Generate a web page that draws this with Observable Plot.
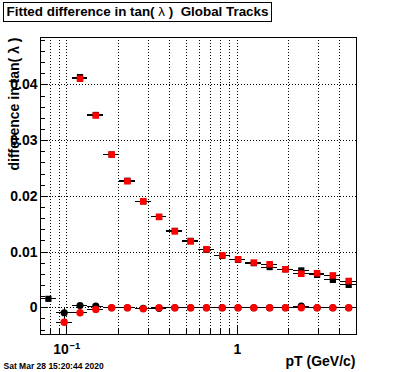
<!DOCTYPE html>
<html><head><meta charset="utf-8">
<script src="https://cdn.jsdelivr.net/npm/d3@7"></script>
<script src="https://cdn.jsdelivr.net/npm/@observablehq/plot@0.6"></script>
<style>
body{margin:0;background:#fff;}
#wrap{position:relative;width:396px;height:372px;font-family:"Liberation Sans",Arial,Helvetica,sans-serif;}
#title{position:absolute;left:3px;top:2px;width:269px;height:20px;box-sizing:border-box;border:1px solid #000;font-weight:bold;font-size:13.4px;line-height:18px;text-align:center;white-space:pre;background:#fff;z-index:2}
#title .l{font-weight:normal}
</style></head>
<body><div id="wrap"><div id="title">Fitted difference in tan( <span class="l">λ</span> )  Global Tracks</div></div>
<script>
// ---- data ----
const binCenters = [0.0779, 0.0964, 0.1194, 0.1478, 0.1830, 0.2265, 0.2804, 0.3472, 0.4298, 0.5321, 0.6587, 0.8155, 1.0095, 1.2498, 1.5472, 1.9154, 2.3713, 2.9355, 3.6341, 4.4988];
const binLow     = [0.0700, 0.0867, 0.1073, 0.1328, 0.1644, 0.2036, 0.2520, 0.3120, 0.3863, 0.4782, 0.5920, 0.7329, 0.9073, 1.1233, 1.3906, 1.7215, 2.1312, 2.6384, 3.2662, 4.0434];
const binHigh    = [0.0867, 0.1073, 0.1328, 0.1644, 0.2036, 0.2520, 0.3120, 0.3863, 0.4782, 0.5920, 0.7329, 0.9073, 1.1233, 1.3906, 1.7215, 2.1312, 2.6384, 3.2662, 4.0434, 5.0000];

const blackSquares = [0.0016, null, 0.0414, 0.0346, 0.0275, 0.0228, 0.0191, 0.0163, 0.0138, 0.0120, 0.0104, 0.0093, 0.0086, 0.0080, 0.0073, 0.0069, 0.0067, 0.0059, 0.0050, 0.0041];
const redSquares   = [null, null, 0.0411, 0.0345, 0.0275, 0.0227, 0.0191, 0.0163, 0.0137, 0.0119, 0.0105, 0.0094, 0.0087, 0.0081, 0.0078, 0.0069, 0.0061, 0.0062, 0.0058, 0.0048];
const blackCircles = [null, -0.0009, 0.0004, 0.0003, 0.0000, 0.0000, -0.0001, -0.0001, 0.0000, 0.0000, 0.0000, 0.0000, 0.0000, 0.0000, 0.0000, 0.0000, 0.0003, 0.0000, 0.0000, 0.0000];
const redCircles   = [null, -0.0026, -0.0009, -0.0003, 0.0000, 0.0000, -0.0002, 0.0000, 0.0000, 0.0000, 0.0000, 0.0000, 0.0000, 0.0000, 0.0000, 0.0000, 0.0000, 0.0000, 0.0000, 0.0000];
const blackCircleErr = [0, 0.0009, 0.0003, 0.0002, 0, 0, 0, 0, 0, 0, 0, 0, 0, 0, 0, 0, 0, 0, 0, 0];
const redCircleErr   = [0, 0.0008, 0.0003, 0.0002, 0, 0, 0, 0, 0, 0, 0, 0, 0, 0, 0, 0, 0, 0, 0, 0];

const yMajor = [0, 0.01, 0.02, 0.03, 0.04];
const yMinor = [-0.004, -0.002, 0.002, 0.004, 0.006, 0.008, 0.012, 0.014, 0.016, 0.018, 0.022, 0.024, 0.026, 0.028, 0.032, 0.034, 0.036, 0.038, 0.042, 0.044, 0.046, 0.048];
const yLabels = ["0", "0.01", "0.02", "0.03", "0.04"];
const xMajor = [0.1, 1];
const xMinor = [0.08, 0.09, 0.2, 0.3, 0.4, 0.5, 0.6, 0.7, 0.8, 0.9, 2, 3, 4];
const xGrid = [0.08, 0.09, 0.1, 0.2, 0.3, 0.4, 0.5, 0.6, 0.7, 0.8, 0.9, 1, 2, 3, 4];
const xDomain = [0.07, 5];
const yDomain = [-0.0048, 0.0485];

// ---- layout ----
const W = 396, H = 372, mL = 40, mR = 40, mT = 37, mB = 38;
const fw = W - mL - mR, fh = H - mT - mB;

function series(vals, errs) {
  return binCenters.map((c, i) => ({c, lo: binLow[i], hi: binHigh[i], v: vals[i], e: errs ? errs[i] : 0}))
    .filter(d => d.v !== null);
}
const sBS = series(blackSquares), sRS = series(redSquares);
const sBC = series(blackCircles, blackCircleErr), sRC = series(redCircles, redCircleErr);

const crisp = {shapeRendering: "crispEdges"};
const errMarks = (s) => [
  Plot.ruleY(s, {y: "v", x1: "lo", x2: "hi", stroke: "black", strokeWidth: 1, ...crisp}),
  Plot.ruleX(s.filter(d => d.e > 0), {x: "c", y1: d => d.v - d.e, y2: d => d.v + d.e, stroke: "black", strokeWidth: 1, ...crisp})
];
const font = {fontWeight: "bold", fill: "black"};

const chart = Plot.plot({
  width: W, height: H,
  marginLeft: mL, marginRight: mR, marginTop: mT, marginBottom: mB,
  style: {fontFamily: "'Liberation Sans', Arial, Helvetica, sans-serif", background: "white", overflow: "visible"},
  x: {type: "log", domain: xDomain, axis: null},
  y: {domain: yDomain, axis: null},
  marks: [
    Plot.ruleX(xGrid, {x: d => d, stroke: "black", strokeDasharray: "1,2", strokeWidth: 1, ...crisp}),
    Plot.ruleY(yMajor, {y: d => d, stroke: "black", strokeDasharray: "1,2", strokeWidth: 1, ...crisp}),
    Plot.tickY(yMinor, {y: d => d, insetRight: fw - 5, stroke: "black", ...crisp}),
    Plot.tickY(yMajor, {y: d => d, insetRight: fw - 8, stroke: "black", ...crisp}),
    Plot.tickX(xMinor, {x: d => d, insetTop: fh - 5, stroke: "black", ...crisp}),
    Plot.tickX(xMajor, {x: d => d, insetTop: fh - 8, stroke: "black", ...crisp}),
    Plot.frame({stroke: "black", ...crisp}),
    // y tick labels
    Plot.text(yMajor, {y: d => d, text: (d, i) => yLabels[i], frameAnchor: "left", textAnchor: "end", dx: -3, fontSize: 14, ...font}),
    // x tick labels
    Plot.text([1], {x: d => d, text: () => "1", frameAnchor: "bottom", lineAnchor: "bottom", dy: 19, fontSize: 14, ...font}),
    Plot.text([0.1], {x: d => d, text: () => "10", frameAnchor: "bottom", lineAnchor: "bottom", textAnchor: "end", dx: 2, dy: 19, fontSize: 14, ...font}),
    Plot.text([0.1], {x: d => d, text: () => "\u22121", frameAnchor: "bottom", lineAnchor: "bottom", textAnchor: "start", dx: 2.5, dy: 14, fontSize: 9.5, ...font}),
    // axis titles
    Plot.text(["pT (GeV/c)"], {text: d => d, frameAnchor: "bottom-right", textAnchor: "end", lineAnchor: "bottom", dx: -1, dy: 31.5, fontSize: 14, ...font}),
    Plot.text(["difference in tan( \u03bb )"], {text: d => d, frameAnchor: "top-left", textAnchor: "end", lineAnchor: "bottom", rotate: -90, dx: -22, dy: 0, fontSize: 14, ...font}),
    Plot.text(["Sat Mar 28 15:20:44 2020"], {text: d => d, frameAnchor: "bottom-left", textAnchor: "start", lineAnchor: "bottom", dx: -37, dy: 34, fontSize: 8.5, ...font}),
    // data
    ...errMarks(sBS),
    Plot.dot(sBS, {x: "c", y: "v", symbol: "square", r: 3.5, fill: "black", stroke: "none"}),
    ...errMarks(sRS),
    Plot.dot(sRS, {x: "c", y: "v", symbol: "square", r: 3.7, fill: "#ff0000", stroke: "none"}),
    ...errMarks(sBC),
    Plot.dot(sBC, {x: "c", y: "v", r: 3.6, fill: "black", stroke: "none"}),
    ...errMarks(sRC),
    Plot.dot(sRC, {x: "c", y: "v", r: 3.7, fill: "#ff0000", stroke: "none"})
  ]
});
document.getElementById("wrap").appendChild(chart);
</script>
</body></html>
